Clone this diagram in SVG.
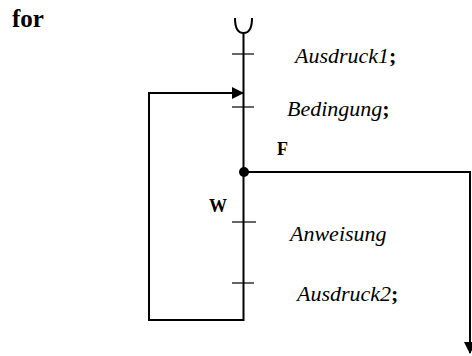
<svg xmlns="http://www.w3.org/2000/svg" width="472" height="356" viewBox="0 0 472 356">
<style>
.ln{stroke:#000;stroke-width:2;fill:none}
.tk{stroke:#000;stroke-width:1.2;fill:none}
text{font-family:'Liberation Serif','Times New Roman','DejaVu Serif',serif}
.it{font-style:italic;font-size:22px}
.b{font-weight:bold;font-style:normal}
</style>
<defs>
<marker id="ah" markerWidth="12" markerHeight="12" refX="11" refY="6" orient="auto" markerUnits="userSpaceOnUse">
<path d="M0,0 L12,6 L0,12 Z" fill="#000"/>
</marker>
</defs>
<rect width="472" height="356" fill="#fff"/>
<text x="12" y="27" class="b" font-size="25">for</text>
<g id="connectors">
<path class="ln" d="M243.5,33 V320 H149 V93 H243" marker-end="url(#ah)"/>
<path class="ln" d="M244,172 H470 V353" marker-end="url(#ah)"/>
<path class="ln" d="M235,18 Q235,33 243.5,33 Q252,33 252,18" stroke-width="1.5"/>
</g>
<g id="ticks">
<line class="tk" x1="232" y1="54" x2="254" y2="54"/>
<line class="tk" x1="232" y1="107" x2="254" y2="107"/>
<line class="tk" x1="232" y1="222" x2="256" y2="222"/>
<line class="tk" x1="232" y1="283" x2="254" y2="283"/>
</g>
<g id="junction"><circle cx="244" cy="172" r="5" fill="#000"/></g>
<g id="n1"><text x="295" y="63" class="it">Ausdruck1<tspan class="b">;</tspan></text></g>
<g id="n2"><text x="287" y="116" class="it">Bedingung<tspan class="b">;</tspan></text></g>
<g id="f"><text x="277" y="155" class="b" font-size="18">F</text></g>
<g id="w"><text x="209" y="212" class="b" font-size="18">W</text></g>
<g id="n3"><text x="290" y="241" class="it">Anweisung</text></g>
<g id="n4"><text x="297" y="301" class="it">Ausdruck2<tspan class="b">;</tspan></text></g>
</svg>
